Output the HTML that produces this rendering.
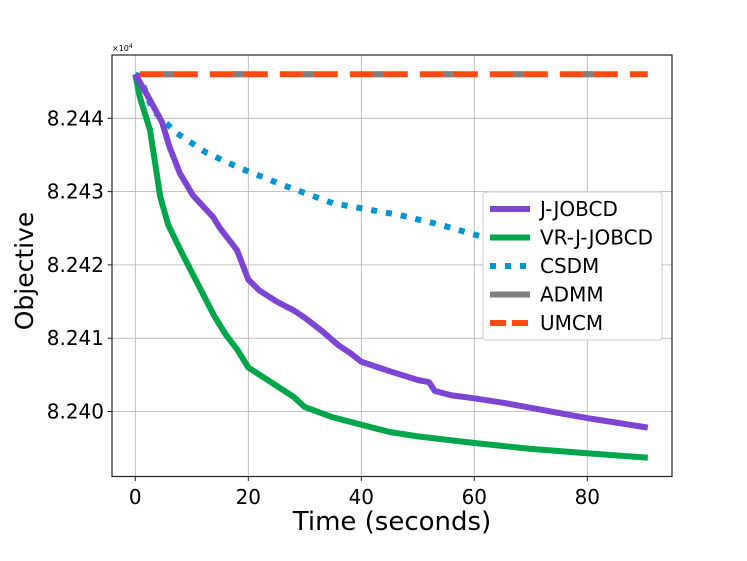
<!DOCTYPE html>
<html><head><meta charset="utf-8"><style>
html,body{margin:0;padding:0;background:#fff;}
svg{display:block;font-family:"DejaVu Sans","Liberation Sans",sans-serif;}
</style></head><body>
<svg id="chart" width="747" height="561">
<rect width="747" height="561" fill="#fff"/>
<g id="grid"></g>
<g id="series"></g>
<rect x="112" y="55" width="560" height="421.5" fill="none" stroke="#222" stroke-width="1.2"/>
<g id="ticks"></g>
<text x="112" y="51" font-size="8">×10<tspan dy="-3" font-size="6">4</tspan></text>
<text x="392" y="530" font-size="26" text-anchor="middle">Time (seconds)</text>
<text x="33" y="271" font-size="25" text-anchor="middle" transform="rotate(-90 33 271)">Objective</text>
<g id="legend"></g>
</svg>
<script>
const xTicks=[0,20,40,60,80];
const yTicks=[8.240,8.241,8.242,8.243,8.244];
const yTickLabels=["8.240","8.241","8.242","8.243","8.244"];
const seriesNames=["J-JOBCD","VR-J-JOBCD","CSDM","ADMM","UMCM"];
const jTimes=[0,2.6,4.7,6.1,7.9,10.2,13.8,15,17,18,19,20,22,25,28,30,33,36,38,40,45,50,52,53,56,60,65,70,75,80,85,90.7];
const jVals=[8.2446,8.24425,8.24395,8.2436,8.24325,8.24295,8.24265,8.2425,8.2423,8.2422,8.242,8.2418,8.24165,8.2415,8.24138,8.24128,8.2411,8.2409,8.2408,8.24068,8.24055,8.24043,8.2404,8.24028,8.24022,8.24018,8.24012,8.24005,8.23998,8.23991,8.23985,8.23978];
const vrTimes=[0,0.8,2.6,3.5,4.4,5.8,8,10,12,14,16,18,20,22,25,28,30,35,40,45,50,60,70,80,90.7];
const vrVals=[8.2446,8.24429,8.24384,8.24339,8.24293,8.24255,8.2422,8.2419,8.2416,8.2413,8.24105,8.24085,8.2406,8.2405,8.24035,8.2402,8.24006,8.23992,8.23982,8.23972,8.23966,8.23957,8.23949,8.23943,8.23937];
const csdmTimes=[0,0.8,3.1,7.3,12.6,18.5,26.8,35,46.8,53.9,61.5,70,80,90.7];
const csdmVals=[8.2446,8.24457,8.24411,8.2438,8.24353,8.24332,8.24307,8.24284,8.24268,8.24255,8.24238,8.24226,8.24213,8.242];
const flatTimes=[0.8,90.7];
const admmVals=[8.2446,8.2446];
const umcmVals=[8.2446,8.2446];

const NS="http://www.w3.org/2000/svg";
const X=t=>135.3+t*5.65;
const Y=v=>118.3+(8.244-v)*73300;
function mk(tag,attrs,parent){const e=document.createElementNS(NS,tag);for(const k in attrs)e.setAttribute(k,attrs[k]);parent.appendChild(e);return e;}
const grid=document.getElementById('grid'),ticks=document.getElementById('ticks'),ser=document.getElementById('series'),leg=document.getElementById('legend');
xTicks.forEach(t=>{
 const g=mk('line',{x1:X(t),x2:X(t),y1:55,y2:476.5,stroke:'#b0b0b0','stroke-width':0.8},grid);
 
 
 const tk=mk('line',{x1:X(t),x2:X(t),y1:476.5,y2:481,stroke:'#222','stroke-width':1},ticks);
 
 
 const tx=mk('text',{x:X(t),y:504,'font-size':20,'text-anchor':'middle'},ticks);tx.textContent=t;
 
 
});
yTicks.forEach((v,i)=>{
 const g=mk('line',{x1:112,x2:672,y1:Y(v),y2:Y(v),stroke:'#b0b0b0','stroke-width':0.8},grid);
 
 
 const tk=mk('line',{x1:107.5,x2:112,y1:Y(v),y2:Y(v),stroke:'#222','stroke-width':1},ticks);
 
 
 const tx=mk('text',{x:104,y:Y(v)+7,'font-size':20,'text-anchor':'end'},ticks);tx.textContent=yTickLabels[i];
 
 
});
function pts(ts,vs){return ts.map((t,i)=>X(t).toFixed(1)+','+Y(vs[i]).toFixed(1)).join(' ');}
const csdm=mk('polyline',{points:pts(csdmTimes,csdmVals),fill:'none',stroke:'#0095d0','stroke-width':6,'stroke-dasharray':'6 9'},ser);


const vr=mk('polyline',{points:pts(vrTimes,vrVals),fill:'none',stroke:'#00a64b','stroke-width':6,'stroke-linejoin':'round'},ser);


const jj=mk('polyline',{points:pts(jTimes,jVals),fill:'none',stroke:'#7d45d4','stroke-width':6,'stroke-linejoin':'round'},ser);


const um=mk('polyline',{points:pts(flatTimes,umcmVals),fill:'none',stroke:'#ff4a14','stroke-width':6,'stroke-dasharray':'58 12'},ser);


const ad=mk('polyline',{points:pts(flatTimes,admmVals),fill:'none',stroke:'#808080','stroke-width':6,'stroke-dasharray':'11 59','stroke-dashoffset':'-23'},ser);



const lb=mk('rect',{x:483,y:192,width:179,height:148,rx:3,fill:'#fff',stroke:'#ccc','stroke-width':1},leg);


const styles=[['#7d45d4',''],['#00a64b',''],['#0095d0','6 9'],['#808080',''],['#ff4a14','16 6']];
seriesNames.forEach((n,i)=>{
 const y=209+i*28.5;
 const l=mk('line',{x1:490,x2:530,y1:y,y2:y,stroke:styles[i][0],'stroke-width':6},leg);
 if(styles[i][1])l.setAttribute('stroke-dasharray',styles[i][1]);
 
 
 const t=mk('text',{x:540,y:y+7,'font-size':20},leg);t.textContent=n;
 
 
});
</script>
</body></html>
